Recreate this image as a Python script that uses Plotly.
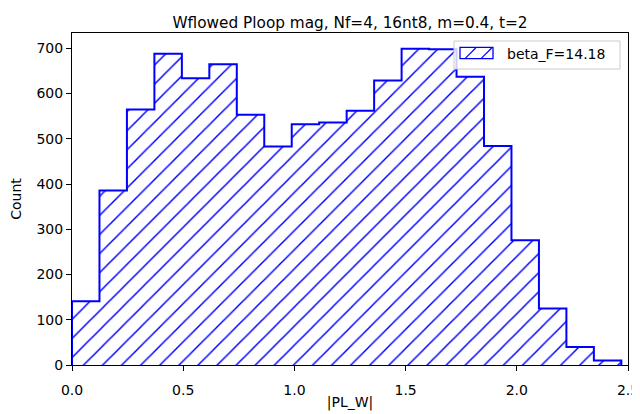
import plotly.graph_objects as go

# histogram data
bin_start = 0.0
bin_width = 0.1235
counts = [141, 386, 565, 688, 634, 665, 553, 483, 532, 536,
          562, 629, 699, 698, 637, 484, 276, 125, 40, 10]
x_ticks = [0.0, 0.5, 1.0, 1.5, 2.0, 2.5]
y_ticks = [0, 100, 200, 300, 400, 500, 600, 700]
series_label = "beta_F=14.18"
title_text = "Wflowed Ploop mag, Nf=4, 16nt8, m=0.4, t=2"

edges = [bin_start + i * bin_width for i in range(len(counts) + 1)]
centers = [(a + b) / 2 for a, b in zip(edges[:-1], edges[1:])]

# page is 640x414, but the html body has an 8px margin
W, H = 640, 414
OFF = 8
L, R, T, B = 72, 12, 33, 49
FONT = "DejaVu Sans"
BLUE = "#0000ff"


def px(x):
    return (x - L) / (W - L - R)


def py(y):
    return (H - B - y) / (H - T - B)


fig = go.Figure()

# hatched fill
fig.add_trace(go.Bar(
    x=centers, y=counts, width=bin_width,
    marker=dict(color="rgba(0,0,0,0)", line_width=0,
                pattern=dict(shape="/", fgcolor=BLUE, fgopacity=1,
                             bgcolor="rgba(0,0,0,0)",
                             size=13.5, solidity=0.11)),
    showlegend=False, hoverinfo="skip",
))

# step outline
fig.add_trace(go.Scatter(
    x=[edges[0]] + edges, y=[0] + counts + [0],
    mode="lines", line=dict(color=BLUE, width=2, shape="hv"),
    showlegend=False, hoverinfo="skip",
))

# hand-made legend in matplotlib style
shapes = [
    dict(type="rect", xref="paper", yref="paper",
         x0=px(454), x1=px(620), y0=py(69), y1=py(41),
         line=dict(color="#cccccc", width=1), fillcolor="rgba(255,255,255,0.8)"),
    dict(type="rect", xref="paper", yref="paper",
         x0=px(460), x1=px(493), y0=py(58.7), y1=py(47.3),
         line=dict(color=BLUE, width=1.3), fillcolor="rgba(0,0,0,0)"),
]
for x_start in (465, 481):
    shapes.append(dict(type="line", xref="paper", yref="paper",
                       x0=px(x_start), y0=py(58.7),
                       x1=px(x_start + 10.7), y1=py(48),
                       line=dict(color=BLUE, width=1.2)))

fig.update_layout(
    width=W - OFF, height=H - OFF,
    margin=dict(l=L - OFF, r=R, t=T - OFF, b=B, autoexpand=False),
    paper_bgcolor="white", plot_bgcolor="white",
    font=dict(family=FONT, size=14, color="black"),
    bargap=0,
    title=dict(text=title_text, x=0.5, xref="paper", xanchor="center",
               y=1 - 15 / (H - OFF), yref="container", yanchor="middle",
               font=dict(size=15.3, family=FONT, color="black")),
    shapes=shapes,
    annotations=[dict(text=series_label, xref="paper", yref="paper",
                      x=px(505), y=py(53.5), xanchor="left", yanchor="middle",
                      showarrow=False, font=dict(size=14, family=FONT))],
)
fig.update_xaxes(
    range=[0, 2.5], tickvals=x_ticks, ticktext=[f"{v:.1f}" for v in x_ticks],
    ticks="outside", ticklen=5, tickcolor="black", tickfont=dict(size=14),
    ticklabelstandoff=7,
    showline=True, linecolor="black", linewidth=1, mirror=True,
    showgrid=False, zeroline=False, automargin=False,
    title=dict(text="|PL_W|", standoff=0, font=dict(size=14)),
)
fig.update_yaxes(
    range=[0, 1.05 * max(counts)], tickvals=y_ticks,
    ticks="outside", ticklen=5, tickcolor="black", tickfont=dict(size=14),
    showline=True, linecolor="black", linewidth=1, mirror=True,
    showgrid=False, zeroline=False, automargin=False,
    title=dict(text="Count", standoff=13, font=dict(size=14)),
)

fig.write_html("out.html")
